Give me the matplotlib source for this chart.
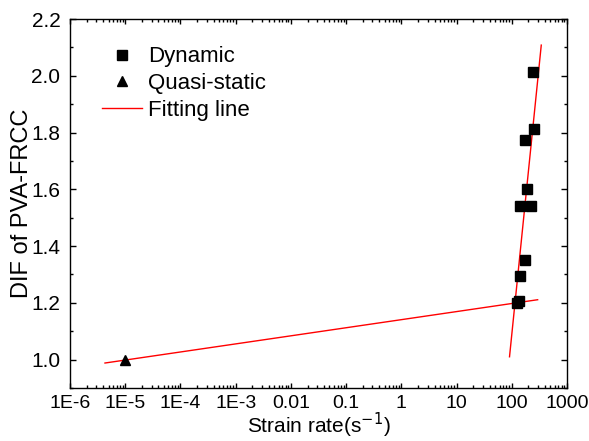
import numpy as np
import matplotlib.pyplot as plt
from matplotlib.ticker import LogLocator, FixedLocator, MultipleLocator

plt.rcParams['font.family'] = ['Liberation Sans', 'DejaVu Sans']

# --- data ---
dyn_rate = [242, 248, 173, 188, 141, 225, 176, 138, 125, 133]
dyn_dif = [2.014, 1.812, 1.775, 1.601, 1.541, 1.541, 1.350, 1.293, 1.200, 1.205]

qs_rate = [1e-5]
qs_dif = [1.0]

# fitting lines (two segments)
fit1_x = [4.3e-6, 294]
fit1_y = [0.988, 1.211]
fit2_x = [91, 342]
fit2_y = [1.010, 2.108]

xtick_vals = [1e-6, 1e-5, 1e-4, 1e-3, 0.01, 0.1, 1, 10, 100, 1000]
xtick_labels = ["1E-6", "1E-5", "1E-4", "1E-3", "0.01", "0.1", "1", "10", "100", "1000"]

fig = plt.figure(figsize=(5.89, 4.41), dpi=100)
ax = fig.add_axes([70 / 589, 1 - 388 / 441, 497 / 589, 369 / 441])

ax.plot(dyn_rate, dyn_dif, 's', color='black', ms=6.5, label="Dynamic", zorder=3)
ax.plot(qs_rate, qs_dif, '^', color='black', ms=7, label="Quasi-static", zorder=3)
ax.plot(fit1_x, fit1_y, '-', color='red', lw=1, label="Fitting line")
ax.plot(fit2_x, fit2_y, '-', color='red', lw=1)

ax.set_xscale('log')
ax.set_xlim(1e-6, 1000)
ax.set_ylim(0.9, 2.2)
ax.xaxis.set_major_locator(FixedLocator(xtick_vals))
ax.set_xticklabels(xtick_labels)
ax.xaxis.set_minor_locator(LogLocator(base=10, subs=np.arange(2, 10), numticks=20))
ax.yaxis.set_minor_locator(MultipleLocator(0.1))
ax.set_yticks([1.0, 1.2, 1.4, 1.6, 1.8, 2.0, 2.2])

ax.tick_params(which='both', direction='in', top=True, right=True, width=1)
ax.tick_params(axis='x', which='major', length=3.6, labelsize=14, pad=5)
ax.tick_params(axis='x', which='minor', length=2)
ax.tick_params(axis='y', which='major', length=4.5, labelsize=15, pad=7)
ax.tick_params(axis='y', which='minor', length=2.2)
for s in ax.spines.values():
    s.set_linewidth(1.0)

ax.set_xlabel("Strain rate(s$^{-1}$)", fontsize=15, labelpad=-1)
ax.set_ylabel("DIF of PVA-FRCC", fontsize=17, labelpad=-1)

ax.legend(loc='upper left', frameon=False, fontsize=16, bbox_to_anchor=(0.064, 0.926),
          borderaxespad=0, borderpad=0, handlelength=1.8, handletextpad=0.3,
          labelspacing=0.26)

fig.savefig("out.png", dpi=100)
